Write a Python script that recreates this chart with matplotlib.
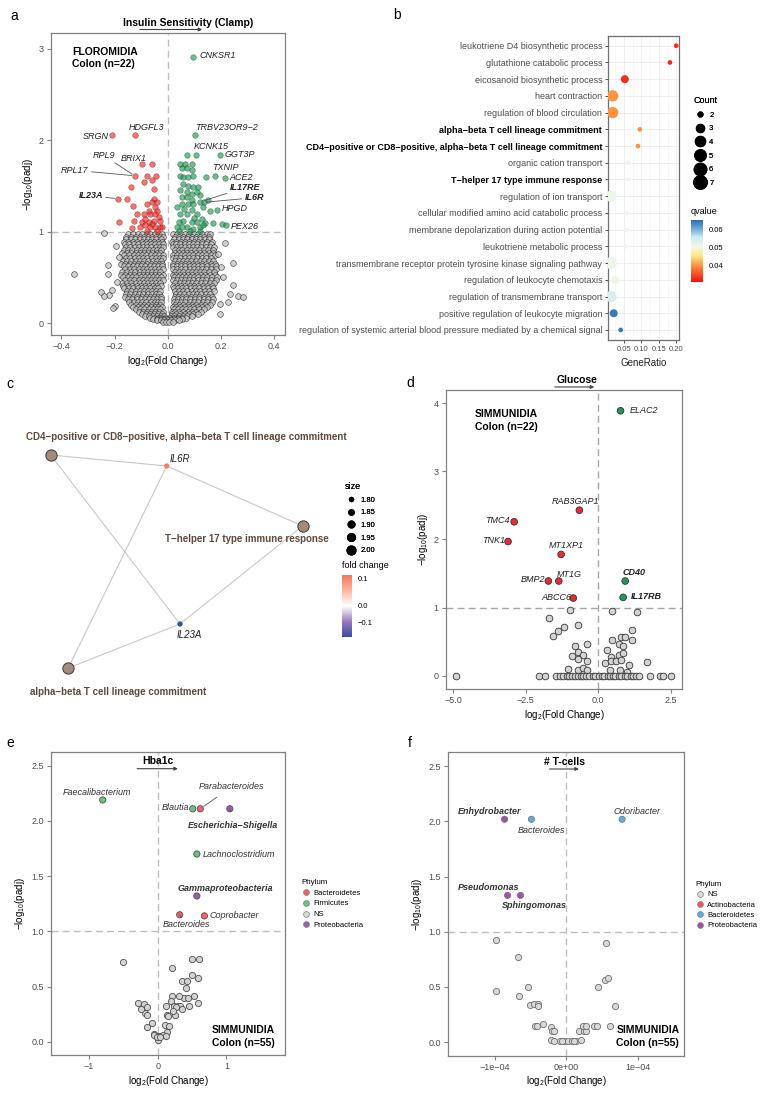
import matplotlib.pyplot as plt
from matplotlib.lines import Line2D
from matplotlib.patches import FancyArrowPatch
from matplotlib.colors import LinearSegmentedColormap, Normalize, TwoSlopeNorm
from matplotlib.cm import ScalarMappable
import numpy as np

W, H = 763, 1094

plt.rcParams['font.family'] = ['Liberation Sans', 'DejaVu Sans']
plt.rcParams['mathtext.fontset'] = 'custom'
plt.rcParams['mathtext.rm'] = 'Liberation Sans'
plt.rcParams['mathtext.it'] = 'Liberation Sans:italic'
plt.rcParams['mathtext.bf'] = 'Liberation Sans:bold'

# ---------------- panel a : FLOROMIDIA volcano ----------------
a_red_x = [-0.209, -0.123, -0.097, -0.060, -0.125, -0.078, -0.043, -0.091, -0.060, -0.140,
           -0.053, -0.188, -0.155, -0.053, -0.060, -0.041, -0.132, -0.078, -0.072, -0.041,
           -0.116, -0.091, -0.066, -0.047, -0.035, -0.184, -0.128, -0.097, -0.072, -0.053,
           -0.134, -0.103, -0.084, -0.066, -0.047, -0.029, -0.078, -0.041, -0.022, -0.060,
           -0.050, -0.085, -0.030]
a_red_y = [2.05, 2.05, 1.74, 1.74, 1.61, 1.61, 1.61, 1.54, 1.56, 1.49,
           1.47, 1.36, 1.36, 1.36, 1.32, 1.32, 1.28, 1.30, 1.23, 1.23,
           1.19, 1.19, 1.19, 1.19, 1.16, 1.11, 1.12, 1.10, 1.10, 1.12,
           1.04, 1.05, 1.07, 1.05, 1.05, 1.05, 1.01, 1.01, 1.05, 1.08,
           1.27, 1.14, 1.12]
a_green_x = [0.093, 0.101, 0.071, 0.106, 0.195, 0.046, 0.065, 0.089, 0.052, 0.071,
             0.089, 0.046, 0.058, 0.077, 0.096, 0.145, 0.176, 0.214, 0.056, 0.077,
             0.096, 0.114, 0.071, 0.089, 0.108, 0.120, 0.052, 0.071, 0.089, 0.120,
             0.135, 0.152, 0.034, 0.052, 0.077, 0.096, 0.133, 0.158, 0.185, 0.046,
             0.071, 0.089, 0.108, 0.127, 0.058, 0.040, 0.089, 0.108, 0.139, 0.170,
             0.205, 0.220, 0.034, 0.052, 0.071, 0.096, 0.120, 0.133, 0.040, 0.083,
             0.120, 0.062, 0.100, 0.045]
a_green_y = [2.91, 2.05, 1.84, 1.84, 1.84, 1.74, 1.74, 1.74, 1.70, 1.69,
             1.67, 1.61, 1.60, 1.60, 1.61, 1.60, 1.61, 1.59, 1.52, 1.50,
             1.49, 1.49, 1.43, 1.41, 1.43, 1.40, 1.38, 1.38, 1.34, 1.32,
             1.32, 1.34, 1.27, 1.30, 1.30, 1.30, 1.27, 1.23, 1.24, 1.19,
             1.19, 1.24, 1.19, 1.14, 1.12, 1.10, 1.10, 1.10, 1.09, 1.09,
             1.08, 1.07, 1.05, 1.05, 1.05, 1.03, 1.05, 1.07, 1.01, 1.01,
             1.01, 1.25, 1.15, 1.45]

# non-significant cloud, read row by row
a_ns_rows_y = [0.97, 0.945, 0.92, 0.89, 0.86, 0.83, 0.80, 0.77, 0.74, 0.71,
               0.68, 0.65, 0.62, 0.59, 0.56, 0.53, 0.50, 0.47, 0.44, 0.41,
               0.38, 0.35, 0.32, 0.29, 0.26, 0.23, 0.20, 0.175, 0.15, 0.125,
               0.10, 0.08, 0.06, 0.045, 0.03, 0.01]
a_ns_rows_x = [
    [-0.148, -0.131, -0.112, -0.097, -0.080, -0.066, -0.050, -0.035, -0.022,
     0.020, 0.034, 0.050, 0.066, 0.081, 0.098, 0.113, 0.129, 0.146, 0.160],
    [-0.156, -0.140, -0.121, -0.104, -0.088, -0.073, -0.058, -0.043, -0.029, -0.017,
     0.027, 0.042, 0.058, 0.074, 0.089, 0.106, 0.121, 0.137, 0.153],
    [-0.157, -0.140, -0.123, -0.106, -0.090, -0.074, -0.058, -0.043, -0.027,
     0.024, 0.041, 0.057, 0.073, 0.090, 0.105, 0.121, 0.138, 0.155],
    [-0.165, -0.149, -0.132, -0.115, -0.098, -0.082, -0.066, -0.051, -0.036, -0.023,
     0.017, 0.032, 0.049, 0.065, 0.081, 0.098, 0.113, 0.130, 0.147, 0.164],
    [-0.160, -0.145, -0.128, -0.112, -0.095, -0.079, -0.064, -0.048, -0.032, -0.019,
     0.019, 0.032, 0.047, 0.063, 0.078, 0.094, 0.111, 0.127, 0.143, 0.161],
    [-0.158, -0.141, -0.125, -0.108, -0.093, -0.077, -0.062, -0.046, -0.031, -0.018,
     0.018, 0.033, 0.048, 0.063, 0.079, 0.095, 0.110, 0.126, 0.142, 0.159, 0.174],
    [-0.166, -0.150, -0.133, -0.117, -0.101, -0.085, -0.070, -0.054, -0.039, -0.024,
     0.025, 0.040, 0.055, 0.071, 0.087, 0.103, 0.118, 0.134, 0.151, 0.168],
    [-0.171, -0.155, -0.138, -0.121, -0.105, -0.089, -0.073, -0.058, -0.042, -0.028,
     0.028, 0.042, 0.057, 0.072, 0.088, 0.104, 0.120, 0.137, 0.154, 0.171],
    [-0.163, -0.146, -0.129, -0.112, -0.096, -0.081, -0.065, -0.049, -0.034, -0.020,
     0.020, 0.034, 0.049, 0.064, 0.080, 0.096, 0.112, 0.128, 0.145, 0.162, 0.178],
    [-0.158, -0.141, -0.124, -0.108, -0.092, -0.077, -0.061, -0.046, -0.031, -0.018,
     0.018, 0.031, 0.047, 0.063, 0.079, 0.095, 0.111, 0.127, 0.144, 0.161],
    [-0.170, -0.153, -0.137, -0.120, -0.104, -0.089, -0.073, -0.057, -0.042, -0.027,
     0.026, 0.041, 0.057, 0.072, 0.088, 0.104, 0.120, 0.136, 0.153, 0.170],
    [-0.175, -0.160, -0.144, -0.128, -0.112, -0.096, -0.080, -0.064, -0.049, -0.034, -0.021,
     0.019, 0.033, 0.048, 0.064, 0.080, 0.095, 0.111, 0.128, 0.144, 0.161, 0.176],
    [-0.166, -0.149, -0.132, -0.116, -0.100, -0.084, -0.068, -0.052, -0.037, -0.022,
     0.021, 0.036, 0.051, 0.066, 0.082, 0.098, 0.114, 0.130, 0.147, 0.164, 0.181],
    [-0.161, -0.144, -0.127, -0.110, -0.094, -0.078, -0.062, -0.047, -0.032, -0.019,
     0.020, 0.035, 0.050, 0.066, 0.082, 0.097, 0.113, 0.129, 0.145, 0.162, 0.179],
    [-0.172, -0.155, -0.139, -0.122, -0.106, -0.090, -0.075, -0.059, -0.043, -0.028,
     0.027, 0.042, 0.058, 0.074, 0.089, 0.105, 0.121, 0.137, 0.154, 0.172],
    [-0.176, -0.160, -0.143, -0.126, -0.110, -0.094, -0.078, -0.063, -0.048, -0.033, -0.020,
     0.019, 0.031, 0.046, 0.061, 0.077, 0.092, 0.108, 0.124, 0.140, 0.157, 0.176],
    [-0.168, -0.151, -0.134, -0.118, -0.102, -0.086, -0.070, -0.055, -0.040, -0.025,
     0.022, 0.037, 0.052, 0.068, 0.083, 0.099, 0.115, 0.131, 0.148, 0.165, 0.186],
    [-0.160, -0.143, -0.126, -0.110, -0.094, -0.078, -0.062, -0.047, -0.033, -0.020,
     0.019, 0.033, 0.048, 0.064, 0.080, 0.096, 0.112, 0.128, 0.145, 0.163, 0.181],
    [-0.171, -0.154, -0.138, -0.121, -0.105, -0.089, -0.073, -0.058, -0.043, -0.029,
     0.028, 0.044, 0.060, 0.075, 0.091, 0.107, 0.123, 0.140, 0.157, 0.175],
    [-0.167, -0.150, -0.134, -0.117, -0.101, -0.085, -0.069, -0.054, -0.040, -0.027,
     0.020, 0.034, 0.050, 0.066, 0.082, 0.098, 0.114, 0.131, 0.148, 0.165],
    [-0.163, -0.146, -0.130, -0.113, -0.097, -0.081, -0.066, -0.050, -0.036,
     0.024, 0.039, 0.055, 0.070, 0.086, 0.102, 0.118, 0.134, 0.151, 0.168],
    [-0.155, -0.138, -0.121, -0.105, -0.089, -0.073, -0.058, -0.043, -0.029,
     0.026, 0.041, 0.057, 0.073, 0.089, 0.105, 0.121, 0.138, 0.155, 0.172],
    [-0.158, -0.141, -0.124, -0.108, -0.092, -0.076, -0.061, -0.046, -0.032,
     0.030, 0.046, 0.062, 0.078, 0.094, 0.110, 0.126, 0.143, 0.160],
    [-0.162, -0.146, -0.130, -0.114, -0.098, -0.082, -0.066, -0.051, -0.037, -0.026,
     0.025, 0.038, 0.054, 0.070, 0.086, 0.102, 0.118, 0.135, 0.152, 0.166],
    [-0.150, -0.133, -0.117, -0.101, -0.085, -0.069, -0.054, -0.039, -0.026,
     0.023, 0.038, 0.053, 0.069, 0.085, 0.101, 0.117, 0.134, 0.151, 0.170],
    [-0.145, -0.129, -0.113, -0.097, -0.081, -0.065, -0.050, -0.036, -0.024,
     0.022, 0.035, 0.050, 0.066, 0.082, 0.098, 0.114, 0.131, 0.148, 0.164],
    [-0.138, -0.121, -0.105, -0.089, -0.073, -0.058, -0.043, -0.029,
     0.027, 0.042, 0.058, 0.074, 0.090, 0.106, 0.123, 0.140, 0.158],
    [-0.130, -0.113, -0.097, -0.081, -0.065, -0.050, -0.036, -0.022,
     0.018, 0.032, 0.047, 0.063, 0.079, 0.095, 0.112, 0.129, 0.146],
    [-0.120, -0.104, -0.088, -0.072, -0.057, -0.042, -0.028,
     0.022, 0.037, 0.052, 0.068, 0.084, 0.100, 0.117, 0.134],
    [-0.110, -0.094, -0.078, -0.062, -0.047, -0.033, -0.019,
     0.014, 0.028, 0.043, 0.058, 0.074, 0.090, 0.107, 0.124],
    [-0.098, -0.082, -0.066, -0.051, -0.036, -0.022,
     0.017, 0.032, 0.047, 0.063, 0.079, 0.096, 0.115],
    [-0.085, -0.070, -0.055, -0.040, -0.027, -0.014,
     0.010, 0.024, 0.040, 0.056, 0.072, 0.089],
    [-0.068, -0.053, -0.038, -0.024, -0.011, 0.008, 0.022, 0.037, 0.052, 0.068],
    [-0.055, -0.041, -0.027, -0.014, -0.002, 0.010, 0.024, 0.039, 0.055],
    [-0.040, -0.026, -0.013, 0.000, 0.012, 0.026, 0.041],
    [-0.018, -0.006, 0.006, 0.018],
]
a_ns_out_x = [-0.354, -0.240, -0.196, -0.225, -0.225, -0.250, -0.222, -0.210, -0.240, -0.200,
              -0.205, 0.245, 0.200, 0.207, 0.245, 0.232, 0.263, 0.284, 0.195, 0.226,
              0.195, 0.215, 0.190, -0.185, -0.190]
a_ns_out_y = [0.54, 0.98, 0.84, 0.64, 0.54, 0.34, 0.31, 0.36, 0.30, 0.19,
              0.16, 0.66, 0.61, 0.50, 0.42, 0.32, 0.30, 0.29, 0.21, 0.23,
              0.10, 0.88, 0.76, 0.72, 0.45]

# ---------------- panel b : GO enrichment ----------------
go_terms = ['leukotriene D4 biosynthetic process',
            'glutathione catabolic process',
            'eicosanoid biosynthetic process',
            'heart contraction',
            'regulation of blood circulation',
            'alpha\u2212beta T cell lineage commitment',
            'CD4\u2212positive or CD8\u2212positive, alpha\u2212beta T cell lineage commitment',
            'organic cation transport',
            'T\u2212helper 17 type immune response',
            'regulation of ion transport',
            'cellular modified amino acid catabolic process',
            'membrane depolarization during action potential',
            'leukotriene metabolic process',
            'transmembrane receptor protein tyrosine kinase signaling pathway',
            'regulation of leukocyte chemotaxis',
            'regulation of transmembrane transport',
            'positive regulation of leukocyte migration',
            'regulation of systemic arterial blood pressure mediated by a chemical signal']
go_bold = ['alpha\u2212beta T cell lineage commitment',
           'CD4\u2212positive or CD8\u2212positive, alpha\u2212beta T cell lineage commitment',
           'T\u2212helper 17 type immune response']
go_ratio = [0.200, 0.182, 0.052, 0.017, 0.017, 0.095, 0.090, 0.060, 0.060, 0.012,
            0.058, 0.057, 0.055, 0.012, 0.024, 0.012, 0.020, 0.040]
go_count = [2, 2, 3, 5, 5, 2, 2, 2, 2, 5, 2, 2, 2, 6, 3, 5, 3, 2]
go_qvalue = [0.033, 0.033, 0.033, 0.040, 0.040, 0.040, 0.040, 0.051, 0.051, 0.051,
             0.051, 0.051, 0.051, 0.051, 0.051, 0.054, 0.064, 0.064]
count_levels = [2, 3, 4, 5, 6, 7]
count_diam_px = [4.7, 8.0, 10.0, 11.3, 12.3, 13.3]

# ---------------- panel c : gene-concept network ----------------
net_names = ['CD4\u2212positive or CD8\u2212positive, alpha\u2212beta T cell lineage commitment',
             'alpha\u2212beta T cell lineage commitment',
             'T\u2212helper 17 type immune response',
             'IL6R', 'IL23A']
net_is_term = [True, True, True, False, False]
net_x = [50.7, 68.3, 302.7, 166.7, 180.0]
net_y = [455.0, 668.0, 526.0, 466.0, 624.0]
net_fold = [np.nan, np.nan, np.nan, 0.11, -0.187]
net_edges = [(0, 3), (0, 4), (2, 3), (1, 3), (2, 4), (1, 4)]
net_size_levels = ['1.80', '1.85', '1.90', '1.95', '2.00']
net_size_px = [4.0, 5.3, 6.7, 7.7, 8.7]

# ---------------- panel d : SIMMUNIDIA genes vs glucose ----------------
d_genes = ['ELAC2', 'RAB3GAP1', 'TMC4', 'TNK1', 'MT1XP1', 'BMP2', 'MT1G', 'ABCC6', 'CD40', 'IL17RB']
d_fc = [0.77, -0.65, -2.90, -3.11, -1.28, -1.72, -1.36, -0.86, 0.93, 0.86]
d_padj = [3.89, 2.43, 2.26, 1.97, 1.78, 1.39, 1.39, 1.14, 1.39, 1.15]
d_ns_fc = [-4.90, -1.71, -0.97, -0.68, -1.18, -1.38, -1.55, 0.48, 1.33, -0.79,
           -0.40, -0.91, -0.71, -0.54, -0.71, -0.38, -1.03, -0.68, -0.51, -0.40,
           0.49, 0.70, 0.80, 0.94, 1.18, 1.17, 0.86, 0.29, 0.44, 0.72,
           0.87, 0.25, 0.45, 0.63, 0.80, 1.07, 1.67, 0.40, 0.75, 0.98,
           -2.03, -1.84, -1.44, -1.31, -1.22, -1.09, -1.01, -0.92, -0.79, -0.71,
           -0.60, -0.52, -0.41, -0.33, -0.19, -0.11, 0.02, 0.12, 0.21, 0.33,
           0.41, 0.52, 0.59, 0.71, 0.79, 0.92, 1.01, 1.12, 1.19, 1.31,
           1.42, 1.78, 2.13, 2.24, 2.50]
d_ns_padj = [0.00, 0.84, 0.96, 0.74, 0.71, 0.66, 0.58, 0.95, 0.93, 0.44,
             0.46, 0.29, 0.35, 0.31, 0.24, 0.22, 0.10, 0.08, 0.11, 0.08,
             0.52, 0.47, 0.57, 0.57, 0.67, 0.52, 0.43, 0.38, 0.28, 0.30,
             0.33, 0.19, 0.21, 0.21, 0.23, 0.15, 0.20, 0.08, 0.09, 0.06,
             0.00, 0.00, 0.00, 0.00, 0.00, 0.00, 0.00, 0.00, 0.00, 0.00,
             0.00, 0.00, 0.00, 0.00, 0.00, 0.00, 0.00, 0.00, 0.00, 0.00,
             0.00, 0.00, 0.00, 0.00, 0.00, 0.00, 0.00, 0.00, 0.00, 0.00,
             0.00, 0.00, 0.00, 0.00, 0.00]

# ---------------- panel e : microbiota vs Hba1c ----------------
e_taxa = ['Faecalibacterium', 'Blautia', 'Parabacteroides', 'Escherichia\u2212Shigella',
          'Lachnoclostridium', 'Gammaproteobacteria', 'Bacteroides', 'Coprobacter']
e_phylum = ['Firmicutes', 'Firmicutes', 'Bacteroidetes', 'Proteobacteria',
            'Firmicutes', 'Proteobacteria', 'Bacteroidetes', 'Bacteroidetes']
e_fc = [-0.80, 0.51, 0.62, 1.05, 0.57, 0.57, 0.32, 0.68]
e_padj = [2.19, 2.11, 2.11, 2.11, 1.70, 1.32, 1.15, 1.14]
e_ns_fc = [-0.50, 0.50, 0.60, 0.21, 0.36, 0.50, 0.58, 0.41, 0.42, 0.53,
           0.59, 0.45, 0.38, 0.31, 0.21, 0.19, 0.12, 0.24, 0.29, 0.33,
           0.13, 0.25, 0.15, -0.29, -0.20, -0.15, -0.19, -0.16, -0.15, -0.08,
           0.10, 0.17, 0.13, -0.06, -0.02, 0.02, 0.08, 0.00, 0.12, -0.05,
           -0.01, 0.26, 0.44, -0.24, 0.04, 0.22, 0.35]
e_ns_padj = [0.72, 0.75, 0.75, 0.67, 0.55, 0.60, 0.58, 0.49, 0.55, 0.41,
             0.35, 0.32, 0.40, 0.41, 0.41, 0.37, 0.32, 0.32, 0.32, 0.32,
             0.24, 0.24, 0.23, 0.35, 0.34, 0.31, 0.26, 0.24, 0.13, 0.17,
             0.15, 0.14, 0.09, 0.07, 0.05, 0.05, 0.06, 0.02, 0.05, 0.06,
             0.04, 0.31, 0.40, 0.30, 0.04, 0.28, 0.30]
e_phyla = ['Bacteroidetes', 'Firmicutes', 'NS', 'Proteobacteria']

# ---------------- panel f : microbiota vs T-cells ----------------
f_taxa = ['Enhydrobacter', 'Bacteroides', 'Odoribacter', 'Pseudomonas', 'Sphingomonas']
f_phylum = ['Proteobacteria', 'Bacteroidetes', 'Bacteroidetes', 'Proteobacteria', 'Proteobacteria']
f_fc = [-0.861e-4, -0.486e-4, 0.778e-4, -0.819e-4, -0.639e-4]
f_padj = [2.02, 2.02, 2.02, 1.33, 1.33]
f_ns_fc = [-0.98e-4, 0.55e-4, -0.68e-4, -0.53e-4, -0.98e-4, -0.66e-4, 0.44e-4, 0.54e-4, 0.58e-4, 0.68e-4,
           -0.50e-4, -0.45e-4, -0.39e-4, -0.39e-4, -0.44e-4, -0.41e-4, -0.33e-4, -0.22e-4, -0.20e-4, -0.17e-4,
           -0.21e-4, -0.17e-4, -0.09e-4, -0.03e-4, 0.03e-4, 0.08e-4, 0.14e-4, 0.21e-4, 0.18e-4, 0.25e-4,
           0.28e-4, 0.23e-4, 0.28e-4, 0.38e-4, 0.43e-4, 0.61e-4, -0.06e-4, 0.11e-4]
f_ns_padj = [0.93, 0.90, 0.77, 0.50, 0.46, 0.42, 0.50, 0.56, 0.58, 0.33,
             0.34, 0.35, 0.35, 0.33, 0.15, 0.15, 0.16, 0.14, 0.10, 0.10,
             0.02, 0.01, 0.01, 0.01, 0.01, 0.01, 0.01, 0.02, 0.10, 0.10,
             0.10, 0.15, 0.15, 0.15, 0.15, 0.15, 0.01, 0.01]
f_phyla = ['NS', 'Actinobacteria', 'Bacteroidetes', 'Proteobacteria']

phylum_colors = {'Bacteroidetes': '#F1626A', 'Firmicutes': '#62C97A', 'NS': '#D9D9D9',
                 'Proteobacteria': '#A15BB3', 'Actinobacteria': '#F1626A'}
f_phylum_colors = {'NS': '#D9D9D9', 'Actinobacteria': '#EF5A5F', 'Bacteroidetes': '#5AADE3',
                   'Proteobacteria': '#A54DB0'}

fig = plt.figure(figsize=(W / 100, H / 100), dpi=100)


def box(x0, y0, x1, y1):
    return [x0 / W, 1 - y1 / H, (x1 - x0) / W, (y1 - y0) / H]


def fpt(x, y):
    return (x / W, 1 - y / H)


def panel_letter(ch, x, y):
    fig.text(*fpt(x, y), ch, fontsize=10, ha='center', va='center')


def arrow_title(text, cx, ty, x0, x1, ay):
    fig.text(*fpt(cx, ty), text, fontsize=7.5, fontweight='bold', ha='center', va='center')
    fig.add_artist(FancyArrowPatch(fpt(x0, ay), fpt(x1, ay), transform=fig.transFigure,
                                   arrowstyle='-|>', mutation_scale=5, lw=0.8, color='#444444'))


def volcano_axes(rect, xlim, ylim, xticks, xlabels, yticks, ylabels, dash='#bdbdbd'):
    ax = fig.add_axes(box(*rect))
    ax.set_xlim(xlim)
    ax.set_ylim(ylim)
    ax.set_xticks(xticks, xlabels)
    ax.set_yticks(yticks, ylabels)
    for s in ax.spines.values():
        s.set_color('#808080')
        s.set_linewidth(0.9)
    ax.tick_params(colors='#808080', labelcolor='#4d4d4d', labelsize=6.5, length=3, width=0.8, pad=2)
    ax.axvline(0, color=dash, ls=(0, (5, 3)), lw=1, zorder=0)
    ax.axhline(1, color=dash, ls=(0, (5, 3)), lw=1, zorder=0)
    ax.set_xlabel('log$_2$(Fold Change)', fontsize=7, labelpad=2)
    ax.set_ylabel('\u2212log$_{10}$(padj)', fontsize=7, labelpad=3)
    return ax


# ================= panel a =================
ax = volcano_axes((50.7, 33, 285, 335), (-0.44, 0.44), (-0.13, 3.17),
                  [-0.4, -0.2, 0, 0.2, 0.4], ['\u22120.4', '\u22120.2', '0.0', '0.2', '0.4'],
                  [0, 1, 2, 3], ['0', '1', '2', '3'])
gx = np.concatenate([np.array(r) for r in a_ns_rows_x] + [np.array(a_ns_out_x)])
gy = np.concatenate([np.full(len(r), yv) for r, yv in zip(a_ns_rows_x, a_ns_rows_y)] + [np.array(a_ns_out_y)])
ax.scatter(gx, gy, s=17, facecolor='#c4c4c4', edgecolor='#1e1e1e', lw=0.5, alpha=0.75, zorder=2)
ax.scatter(a_red_x, a_red_y, s=16, facecolor='#f01e1e', edgecolor='#7a1010', lw=0.4, alpha=0.62, zorder=3)
ax.scatter(a_green_x, a_green_y, s=16, facecolor='#17914a', edgecolor='#0b4d26', lw=0.4, alpha=0.62, zorder=3)
ax.text(0.09, 0.955, 'FLOROMIDIA\nColon (n=22)', transform=ax.transAxes, fontsize=7.5,
        fontweight='bold', ha='left', va='top', linespacing=1.35)

lab_kw = dict(fontsize=6.5, style='italic', color='#222222')
ax.text(0.117, 2.92, 'CNKSR1', ha='left', va='center', **lab_kw)
ax.text(-0.222, 2.04, 'SRGN', ha='right', va='center', **lab_kw)
ax.text(-0.080, 2.14, 'HDGFL3', ha='center', va='center', **lab_kw)
ax.text(0.104, 2.14, 'TRBV23OR9\u22122', ha='left', va='center', **lab_kw)
ax.text(0.097, 1.93, 'KCNK15', ha='left', va='center', **lab_kw)
ax.text(0.214, 1.84, 'GGT3P', ha='left', va='center', **lab_kw)
ax.text(-0.128, 1.80, 'BRIX1', ha='center', va='center', **lab_kw)
ax.text(0.167, 1.70, 'TXNIP', ha='left', va='center', **lab_kw)
ax.text(0.232, 1.59, 'ACE2', ha='left', va='center', **lab_kw)
ax.text(0.203, 1.25, 'HPGD', ha='left', va='center', **lab_kw)
ax.text(0.238, 1.06, 'PEX26', ha='left', va='center', **lab_kw)
line_kw = dict(arrowstyle='-', color='#555555', lw=0.6, shrinkA=0, shrinkB=2)
ax.annotate('RPL9', xy=(-0.125, 1.61), xytext=(-0.240, 1.83), ha='center', va='center',
            arrowprops=line_kw, **lab_kw)
ax.annotate('RPL17', xy=(-0.125, 1.61), xytext=(-0.349, 1.67), ha='center', va='center',
            arrowprops=line_kw, **lab_kw)
ax.annotate('IL23A', xy=(-0.188, 1.36), xytext=(-0.244, 1.39), ha='right', va='center',
            arrowprops=line_kw, fontweight='bold', **lab_kw)
ax.annotate('IL17RE', xy=(0.127, 1.33), xytext=(0.232, 1.48), ha='left', va='center',
            arrowprops=line_kw, fontweight='bold', **lab_kw)
ax.annotate('IL6R', xy=(0.135, 1.32), xytext=(0.288, 1.37), ha='left', va='center',
            arrowprops=line_kw, fontweight='bold', **lab_kw)
arrow_title('Insulin Sensitivity (Clamp)', 188, 23, 137, 205, 29.5)
panel_letter('a', 14, 16)

# ================= panel b =================
q_cmap = LinearSegmentedColormap.from_list('q', [(0.0, '#ee1111'), (0.25, '#fb8c3c'), (0.42, '#ffe680'),
                                                  (0.57, '#f2f8e6'), (0.72, '#cdeaf3'),
                                                  (0.86, '#6fa9d9'), (1.0, '#2d6ab3')])
q_norm = Normalize(0.031, 0.065)
axb = fig.add_axes(box(607.7, 35.7, 679.3, 340))
n = len(go_terms)
ypos = np.arange(n, 0, -1)
diam = np.interp(go_count, count_levels, count_diam_px)
axb.scatter(go_ratio, ypos, s=(diam * 0.72) ** 2, c=go_qvalue, cmap=q_cmap, norm=q_norm,
            edgecolors='none', zorder=3)
axb.set_xlim(0.0026, 0.209)
axb.set_ylim(0.4, n + 0.6)
axb.set_xticks([0.05, 0.10, 0.15, 0.20], ['0.05', '0.10', '0.15', '0.20'])
axb.set_xticks([0.025, 0.075, 0.125, 0.175], minor=True)
axb.set_yticks(ypos, go_terms)
axb.grid(True, which='major', color='#ebebeb', lw=0.6, zorder=0)
axb.grid(True, which='minor', axis='x', color='#f4f4f4', lw=0.5, zorder=0)
axb.set_axisbelow(True)
for s in axb.spines.values():
    s.set_color('#6e6e6e')
    s.set_linewidth(0.9)
axb.tick_params(axis='both', which='major', colors='#333333', labelcolor='#4d4d4d', length=2, width=0.6, pad=2)
axb.tick_params(axis='x', which='minor', length=0)
axb.tick_params(axis='x', labelsize=5.5)
axb.tick_params(axis='y', labelsize=6.5)
for lab in axb.get_yticklabels():
    if lab.get_text() in go_bold:
        lab.set_fontweight('bold')
        lab.set_color('black')
axb.set_xlabel('GeneRatio', fontsize=7, color='#222222', labelpad=4)

count_handles = [Line2D([], [], ls='', marker='o', color='black', markersize=d * 0.72)
                 for d in count_diam_px]
lg = axb.legend(count_handles, [str(c) for c in count_levels], title='Count', loc='upper left',
                bbox_to_anchor=fpt(690, 92), bbox_transform=fig.transFigure, frameon=False,
                fontsize=5.5, title_fontsize=6.5, alignment='left', borderpad=0,
                handlelength=1.6, handletextpad=0.4, labelspacing=0.83)
axb.add_artist(lg)
caxb = fig.add_axes(box(691, 220, 702.7, 282))
cb = fig.colorbar(ScalarMappable(norm=q_norm, cmap=q_cmap), cax=caxb)
cb.set_ticks([0.04, 0.05, 0.06], labels=['0.04', '0.05', '0.06'])
cb.outline.set_visible(False)
caxb.tick_params(labelsize=5.5, length=2, color='white', pad=2)
fig.text(*fpt(691, 212), 'qvalue', fontsize=6.5, ha='left', va='center')
panel_letter('b', 397, 15)

# ================= panel c =================
fc_cmap = LinearSegmentedColormap.from_list('fc', ['#3a4ba2', '#9a7bbe', '#ffffff', '#fcb6a4', '#f8765c'])
fc_norm = TwoSlopeNorm(vcenter=0.0, vmin=-0.187, vmax=0.114)
axc = fig.add_axes(box(0, 390, 380, 710))
axc.set_xlim(0, 380)
axc.set_ylim(710, 390)
axc.axis('off')
for i, j in net_edges:
    axc.plot([net_x[i], net_x[j]], [net_y[i], net_y[j]], color='#c8c8c8', lw=0.8, zorder=1)
term_idx = [k for k in range(len(net_names)) if net_is_term[k]]
gene_idx = [k for k in range(len(net_names)) if not net_is_term[k]]
axc.scatter([net_x[k] for k in term_idx], [net_y[k] for k in term_idx], s=(11.3 * 0.72) ** 2,
            facecolor='#a48a7a', edgecolor='#3a3a3a', lw=0.7, zorder=3)
axc.scatter([net_x[k] for k in gene_idx], [net_y[k] for k in gene_idx], s=(5.3 * 0.72) ** 2,
            c=[net_fold[k] for k in gene_idx], cmap=fc_cmap, norm=fc_norm, edgecolors='none', zorder=3)
term_kw = dict(fontsize=7, fontweight='bold', color='#5e4a3d', va='center')
axc.text(186, 437, net_names[0], ha='center', **term_kw)
axc.text(118, 692, net_names[1], ha='center', **term_kw)
axc.text(247, 539, net_names[2], ha='center', **term_kw)
axc.text(170, 459, net_names[3], ha='left', va='center', fontsize=7, style='italic', color='#222222')
axc.text(176.7, 635, net_names[4], ha='left', va='center', fontsize=7, style='italic', color='#222222')

size_handles = [Line2D([], [], ls='', marker='o', color='black', markersize=d * 0.72)
                for d in net_size_px]
lgc = axc.legend(size_handles, net_size_levels, title='size', loc='upper left',
                 bbox_to_anchor=fpt(341, 478), bbox_transform=fig.transFigure, frameon=False,
                 fontsize=5.5, title_fontsize=6.5, alignment='left', borderpad=0,
                 handlelength=1.6, handletextpad=0.4, labelspacing=0.7)
axc.add_artist(lgc)
caxc = fig.add_axes(box(342.3, 575, 352, 637))
cbc = fig.colorbar(ScalarMappable(norm=fc_norm, cmap=fc_cmap), cax=caxc)
cbc.set_ticks([-0.1, 0.0, 0.1], labels=['\u22120.1', '0.0', '0.1'])
cbc.outline.set_visible(False)
caxc.tick_params(labelsize=5.5, length=2, color='white', pad=2)
fig.text(*fpt(341.5, 566), 'fold change', fontsize=6.5, ha='left', va='center')
panel_letter('c', 10, 384)

# ================= panel d =================
axd = volcano_axes((445.7, 390, 682.3, 689.3), (-5.26, 2.9), (-0.2, 4.195),
                   [-5.0, -2.5, 0.0, 2.5], ['\u22125.0', '\u22122.5', '0.0', '2.5'],
                   [0, 1, 2, 3, 4], ['0', '1', '2', '3', '4'], dash='#a6a6a6')
axd.scatter(d_ns_fc, d_ns_padj, s=23, facecolor='#d3d3d3', edgecolor='#333333', lw=0.6, zorder=2)
d_col = ['#1e9a55' if v > 0 else '#ea2a35' for v in d_fc]
axd.scatter(d_fc, d_padj, s=23, c=d_col, edgecolors='#333333', linewidths=0.6, zorder=3)
axd.text(0.124, 0.935, 'SIMMUNIDIA\nColon (n=22)', transform=axd.transAxes, fontsize=7.5,
         fontweight='bold', ha='left', va='top', linespacing=1.35)
dl = dict(fontsize=6.5, style='italic', color='#222222', va='center')
axd.text(1.09, 3.90, 'ELAC2', ha='left', **dl)
axd.text(-0.77, 2.56, 'RAB3GAP1', ha='center', **dl)
axd.text(-3.07, 2.28, 'TMC4', ha='right', **dl)
axd.text(-3.22, 1.98, 'TNK1', ha='right', **dl)
axd.text(-1.12, 1.91, 'MT1XP1', ha='center', **dl)
axd.text(-1.84, 1.41, 'BMP2', ha='right', **dl)
axd.text(-1.00, 1.48, 'MT1G', ha='center', **dl)
axd.text(-1.43, 1.15, 'ABCC6', ha='center', **dl)
axd.text(1.23, 1.51, 'CD40', ha='center', fontweight='bold', **dl)
axd.text(1.12, 1.17, 'IL17RB', ha='left', fontweight='bold', **dl)
arrow_title('Glucose', 576.7, 380, 552, 597, 387)
panel_letter('d', 410, 383)

# ================= panel e =================
ylab_e = ['0.0', '0.5', '1.0', '1.5', '2.0', '2.5']
axe = volcano_axes((51, 751.7, 285, 1055.3), (-1.553, 1.853), (-0.123, 2.627),
                   [-1, 0, 1], ['\u22121', '0', '1'], [0, 0.5, 1, 1.5, 2, 2.5], ylab_e)
axe.scatter(e_ns_fc, e_ns_padj, s=20, facecolor='#d3d3d3', edgecolor='#4d4d4d', lw=0.6, zorder=2)
axe.scatter(e_fc, e_padj, s=20, c=[phylum_colors[p] for p in e_phylum], edgecolors='#4d4d4d',
            linewidths=0.6, zorder=3)
el = dict(fontsize=6.5, style='italic', color='#333333', va='center')
axe.text(-0.888, 2.26, e_taxa[0], ha='center', **el)
axe.text(0.456, 2.12, e_taxa[1], ha='right', **el)
axe.annotate(e_taxa[2], xy=(0.62, 2.11), xytext=(1.077, 2.31), ha='center',
             arrowprops=dict(arrowstyle='-', color='#555555', lw=0.6, shrinkA=4, shrinkB=3), **el)
axe.annotate(e_taxa[3], xy=(1.05, 2.11), xytext=(1.10, 1.96), ha='center', fontweight='bold',
             arrowprops=dict(arrowstyle='-', color='#555555', lw=0.6, shrinkA=5, shrinkB=3), **el)
axe.text(0.655, 1.70, e_taxa[4], ha='left', **el)
axe.text(0.98, 1.39, e_taxa[5], ha='center', fontweight='bold', **el)
axe.annotate(e_taxa[6], xy=(0.32, 1.15), xytext=(0.42, 1.06), ha='center',
             arrowprops=dict(arrowstyle='-', color='#555555', lw=0.6, shrinkA=4, shrinkB=3), **el)
axe.text(0.75, 1.14, e_taxa[7], ha='left', **el)
axe.text(0.957, 0.025, 'SIMMUNIDIA\nColon (n=55)', transform=axe.transAxes, fontsize=7.5,
         fontweight='bold', ha='right', va='bottom', multialignment='center', linespacing=1.35)
e_handles = [Line2D([], [], ls='', marker='o', markersize=4.2, markerfacecolor=phylum_colors[p],
                    markeredgecolor='#7f7f7f', markeredgewidth=0.5) for p in e_phyla]
axe.legend(e_handles, e_phyla, title='Phylum', loc='upper left', bbox_to_anchor=fpt(298, 875),
           bbox_transform=fig.transFigure, frameon=False, fontsize=5.5, title_fontsize=5.8,
           alignment='left', borderpad=0, handlelength=1.0, handletextpad=0.5, labelspacing=0.45)
arrow_title('Hba1c', 157.7, 761, 134.3, 180.7, 768.7)
panel_letter('e', 10, 743)

# ================= panel f =================
axf = volcano_axes((447.7, 752.3, 684.3, 1055.7), (-1.654e-4, 1.646e-4), (-0.123, 2.627),
                   [-1e-4, 0, 1e-4], ['\u22121e\u221204', '0e+00', '1e\u221204'],
                   [0, 0.5, 1, 1.5, 2, 2.5], ylab_e)
axf.scatter(f_ns_fc, f_ns_padj, s=20, facecolor='#d9d9d9', edgecolor='#6e6e6e', lw=0.6, zorder=2)
axf.scatter(f_fc, f_padj, s=20, c=[f_phylum_colors[p] for p in f_phylum], edgecolors='#6e6e6e',
            linewidths=0.5, zorder=3)
fl = dict(fontsize=6.5, style='italic', color='#333333', va='center', ha='center')
axf.text(-1.064e-4, 2.09, f_taxa[0], fontweight='bold', **fl)
axf.text(-0.353e-4, 1.92, f_taxa[1], **fl)
axf.text(0.99e-4, 2.09, f_taxa[2], **fl)
axf.text(-1.082e-4, 1.40, f_taxa[3], fontweight='bold', **fl)
axf.text(-0.45e-4, 1.24, f_taxa[4], fontweight='bold', **fl)
axf.text(0.979, 0.025, 'SIMMUNIDIA\nColon (n=55)', transform=axf.transAxes, fontsize=7.5,
         fontweight='bold', ha='right', va='bottom', multialignment='center', linespacing=1.35)
f_handles = [Line2D([], [], ls='', marker='o', markersize=4.2, markerfacecolor=f_phylum_colors[p],
                    markeredgecolor='#7f7f7f', markeredgewidth=0.5) for p in f_phyla]
axf.legend(f_handles, f_phyla, title='Phylum', loc='upper left', bbox_to_anchor=fpt(692, 877),
           bbox_transform=fig.transFigure, frameon=False, fontsize=5.5, title_fontsize=5.8,
           alignment='left', borderpad=0, handlelength=1.0, handletextpad=0.5, labelspacing=0.4)
arrow_title('# T-cells', 564.3, 761.7, 546.7, 581.7, 769)
panel_letter('f', 410, 743)

fig.savefig('out.png', dpi=100)
